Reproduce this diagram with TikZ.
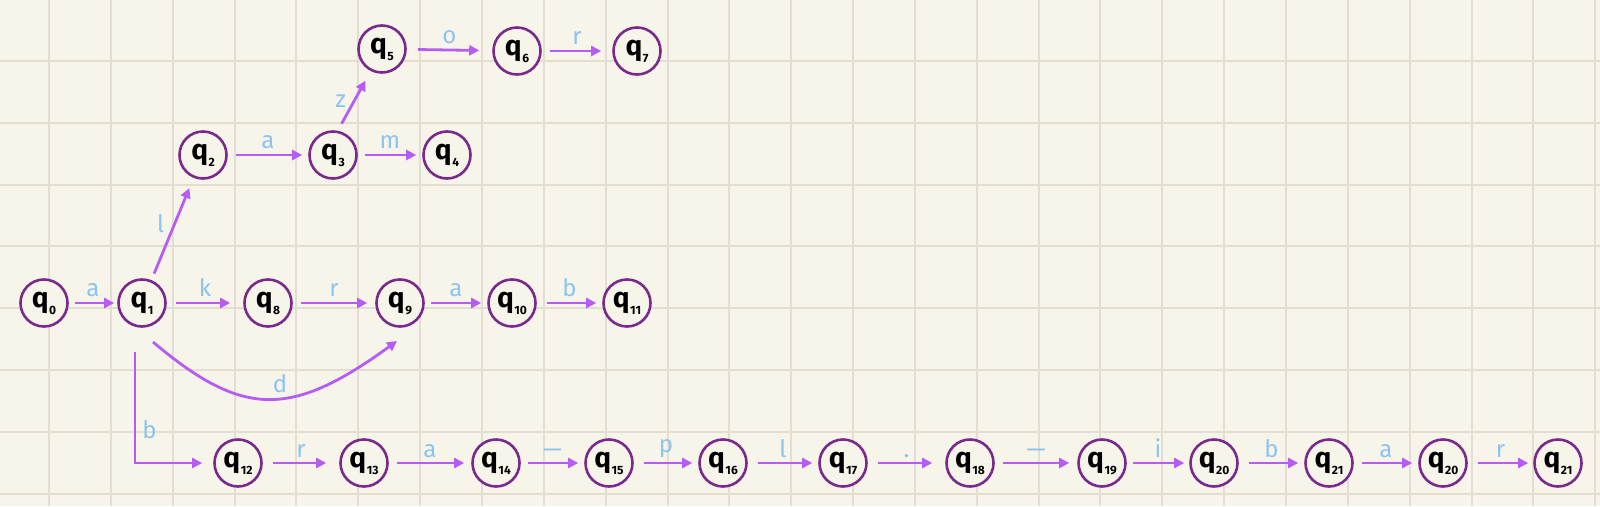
\documentclass[tikz,border=0pt]{standalone}
\usepackage{fontspec}
\setmainfont{Fira Sans}
\usetikzlibrary{arrows.meta}
\definecolor{bg}{HTML}{F7F5EA}
\definecolor{gridc}{HTML}{E2DED2}
\definecolor{ring}{HTML}{7A2A8A}
\definecolor{edgec}{HTML}{B65CF2}
\definecolor{lblc}{HTML}{8DC3F0}
\newcommand{\qst}[1]{q\kern0.5pt\raisebox{-7pt}{\fontsize{12}{12}\selectfont\bfseries #1}}
\begin{document}
\begin{tikzpicture}[x=1pt,y=-1pt,
  st/.style={circle, draw=ring, fill=bg, line width=2.6pt, minimum size=47pt, inner sep=0pt, font=\fontsize{28}{28}\selectfont\bfseries},
  tr/.style={draw=edgec, line width=2.8pt, -{Triangle[length=10pt,width=10pt]}},
  lbl/.style={text=lblc, font=\fontsize{24}{24}\selectfont, inner sep=1pt}]
\fill[bg] (0,0) rectangle (1600,506);
\useasboundingbox (0,0) rectangle (1600,506);
\foreach \i in {0,...,25} \draw[gridc, line width=2pt] ({49+61.85*\i},0) -- ++(0,506);
\foreach \j in {1,...,8} \draw[gridc, line width=2pt] (0,{-0.8+61.8*\j}) -- ++(1600,0);

% states
\node[st] (q0) at (44,303) {\qst{0}};
\node[st] (q1) at (142,303) {\qst{1}};
\node[st] (q8) at (268,303) {\qst{8}};
\node[st] (q9) at (400,303) {\qst{9}};
\node[st] (q10) at (512,303) {\qst{10}};
\node[st] (q11) at (627,303) {\qst{11}};
\node[st] (q2) at (203,155) {\qst{2}};
\node[st] (q3) at (333,155) {\qst{3}};
\node[st] (q4) at (447,155) {\qst{4}};
\node[st] (q5) at (382,49) {\qst{5}};
\node[st] (q6) at (517,51) {\qst{6}};
\node[st] (q7) at (637,51) {\qst{7}};
\node[st] (q12) at (238,463) {\qst{12}};
\node[st] (q13) at (364,463) {\qst{13}};
\node[st] (q14) at (496,463) {\qst{14}};
\node[st] (q15) at (609,463) {\qst{15}};
\node[st] (q16) at (723,463) {\qst{16}};
\node[st] (q17) at (843,463) {\qst{17}};
\node[st] (q18) at (970,463) {\qst{18}};
\node[st] (q19) at (1102,463) {\qst{19}};
\node[st] (q20) at (1214,463) {\qst{20}};
\node[st] (q21) at (1329,463) {\qst{21}};
\node[st] (q20b) at (1443,463) {\qst{20}};
\node[st] (q21b) at (1558,463) {\qst{21}};

\coordinate (b0) at (135,352);
\coordinate (d0) at (153,342);
\coordinate (d1) at (397,341);

% transitions
\draw[tr, shorten <=6pt, shorten >=3pt] (q0) -- node[lbl, above=4pt]{a} (q1);
\draw[tr, shorten <=9pt, shorten >=13pt] (q1) -- node[lbl, above=4pt]{k} (q8);
\draw[tr, shorten <=8pt, shorten >=8pt] (q8) -- node[lbl, above=4pt]{r} (q9);
\draw[tr, shorten <=6pt, shorten >=6pt] (q9) -- node[lbl, above=4pt]{a} (q10);
\draw[tr, shorten <=10pt, shorten >=6pt] (q10) -- node[lbl, above=4pt]{b} (q11);
\draw[tr, shorten <=7pt, shorten >=11pt] (q1) -- node[lbl, pos=0.55, left=8pt]{l} (q2);
\draw[tr, shorten <=8pt, shorten >=6pt] (q2) -- node[lbl, above=4pt]{a} (q3);
\draw[tr, shorten <=7pt, shorten >=6pt] (q3) -- node[lbl, above=4pt]{m} (q4);
\draw[tr, shorten <=8pt, shorten >=11pt] (q3.79) -- node[lbl, left=6pt]{z} (q5.243);
\draw[tr, shorten <=11pt, shorten >=13pt] (q5) -- node[lbl, above=4pt]{o} (q6);
\draw[tr, shorten <=8pt, shorten >=11pt] (q6) -- node[lbl, above=4pt]{r} (q7);
\draw[tr] (d0) .. controls (243,418) and (291,418) .. node[lbl, pos=0.55, above=3pt]{d} (d1);
\draw[tr, shorten >=11pt] (b0) |- node[lbl, pos=0.35, right=5pt]{b} (q12);
\draw[tr, shorten <=10pt, shorten >=13pt] (q12) -- node[lbl, above=3pt]{r} (q13);
\draw[tr, shorten <=8pt, shorten >=7pt] (q13) -- node[lbl, above=3pt]{a} (q14);
\draw[tr, shorten <=7pt, shorten >=6pt] (q14) -- node[lbl, above=3pt]{—} (q15);
\draw[tr, shorten <=10pt, shorten >=6pt] (q15) -- node[lbl, above=3pt]{p} (q16);
\draw[tr, shorten <=10pt, shorten >=6pt] (q16) -- node[lbl, above=3pt]{l} (q17);
\draw[tr, shorten <=10pt, shorten >=13pt] (q17) -- node[lbl, above=3pt]{.} (q18);
\draw[tr, shorten <=8pt, shorten >=8pt] (q18) -- node[lbl, above=3pt]{—} (q19);
\draw[tr, shorten <=6pt, shorten >=5pt] (q19) -- node[lbl, above=3pt]{i} (q20);
\draw[tr, shorten <=10pt, shorten >=6pt] (q20) -- node[lbl, above=3pt]{b} (q21);
\draw[tr, shorten <=8pt, shorten >=6pt] (q21) -- node[lbl, above=3pt]{a} (q20b);
\draw[tr, shorten <=10pt, shorten >=5pt] (q20b) -- node[lbl, above=3pt]{r} (q21b);
\end{tikzpicture}
\end{document}
